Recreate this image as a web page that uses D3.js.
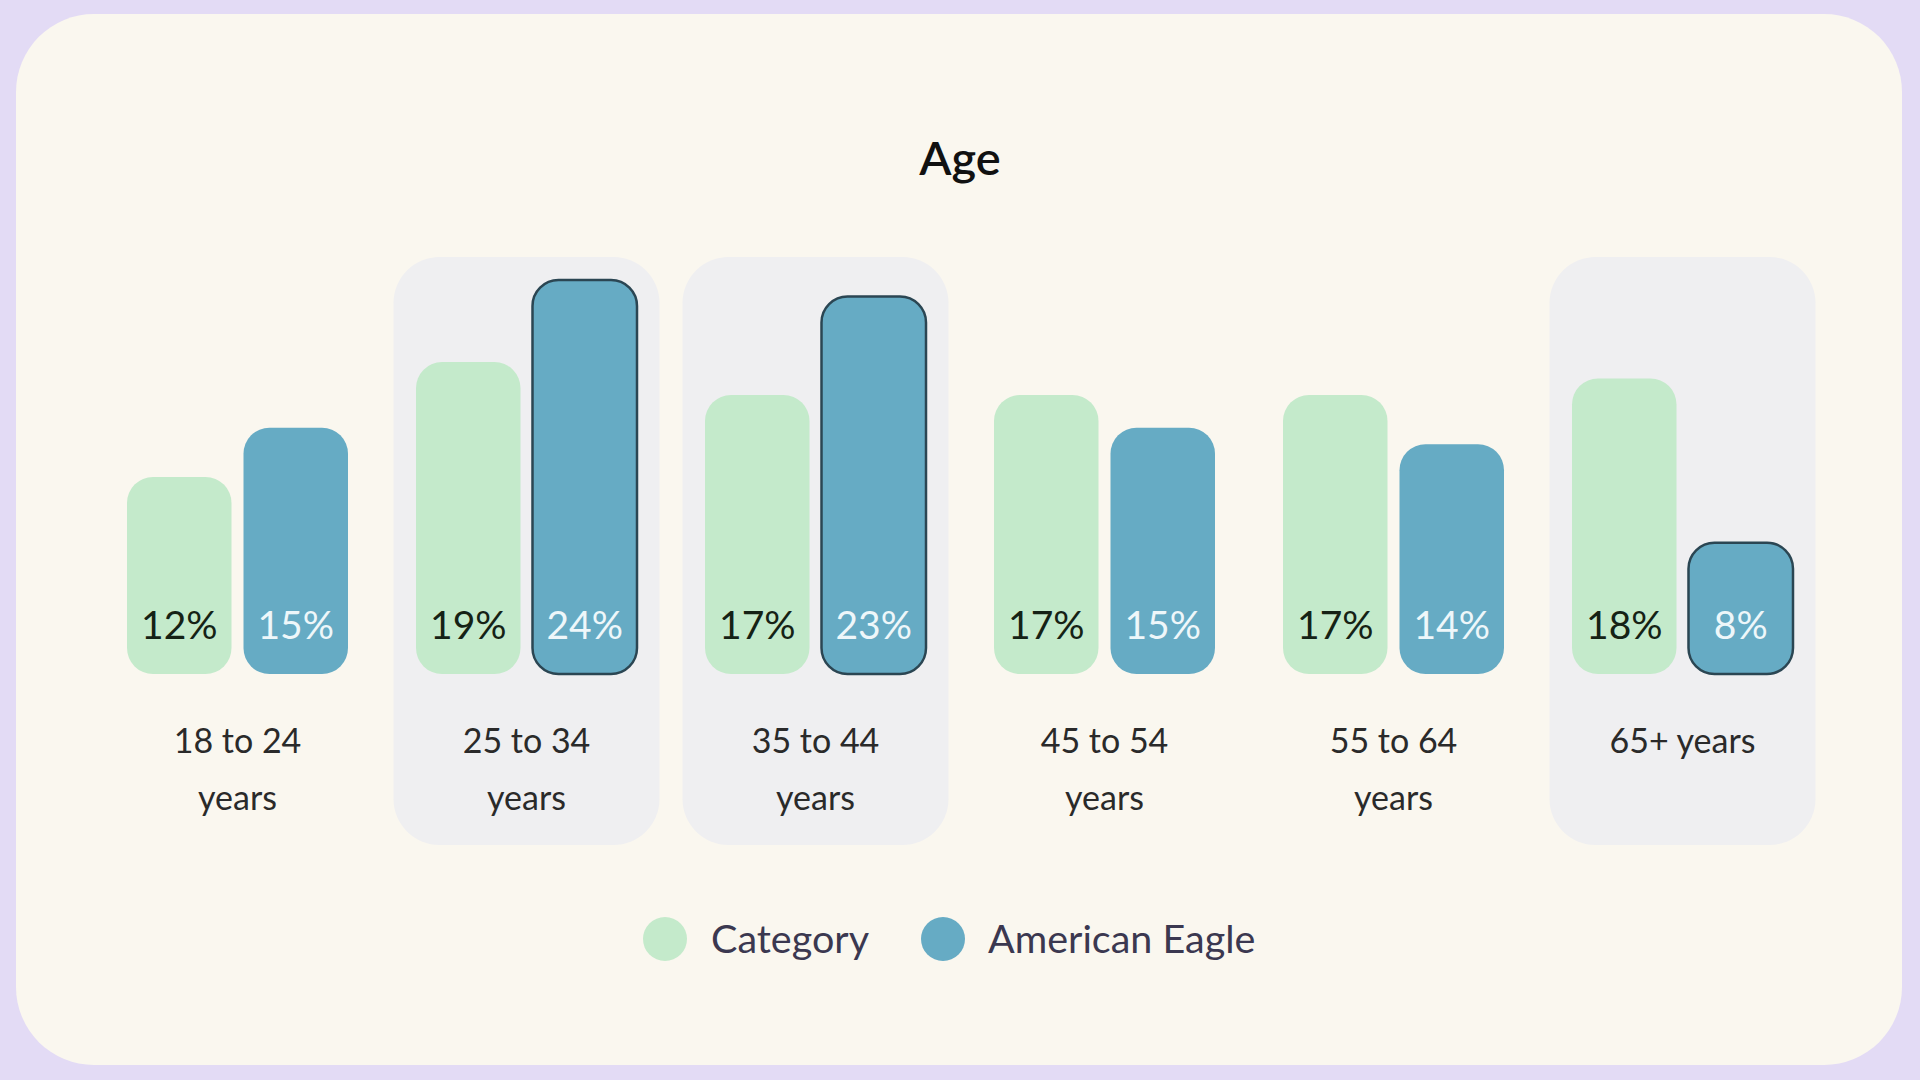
<!DOCTYPE html>
<html>
<head>
<meta charset="utf-8">
<script src="https://cdn.jsdelivr.net/npm/d3@7"></script>
<style>
  html, body { margin: 0; padding: 0; background: #e3dbf5; }
  svg { display: block; }
  text { font-family: Lato, "Open Sans", sans-serif; }
</style>
</head>
<body>
<svg id="chart" width="1920" height="1080"></svg>
<script>
const title = "Age";
const categories = ["18 to 24|years", "25 to 34|years", "35 to 44|years", "45 to 54|years", "55 to 64|years", "65+ years"];
const seriesNames = ["Category", "American Eagle"];
const categoryValues = [12, 19, 17, 17, 17, 18];
const aeValues = [15, 24, 23, 15, 14, 8];
const highlighted = ["25 to 34|years", "35 to 44|years", "65+ years"];

const colors = { "Category": "#c4eacb", "American Eagle": "#66abc4" };
const labelColors = { "Category": "#152215", "American Eagle": "#eef7fa" };

const W = 1920, H = 1080;
const svg = d3.select("#chart");

// page background + card
svg.append("rect").attr("width", W).attr("height", H).attr("fill", "#e3dbf5");
svg.append("rect").attr("x", 16).attr("y", 14).attr("width", 1886).attr("height", 1051)
  .attr("rx", 78).attr("ry", 78).attr("fill", "#faf7ef");

// title
svg.append("text").attr("x", 960).attr("y", 175).attr("text-anchor", "middle")
  .attr("font-size", 47).attr("font-weight", 600).attr("fill", "#111").text(title);

const x0 = d3.scaleBand().domain(categories).range([93, 1827]).paddingInner(0).paddingOuter(0);
const x1 = d3.scaleBand().domain(seriesNames).range([-110.5, 110.5]).paddingInner(0.103).paddingOuter(0);
const y = d3.scaleLinear().domain([0, 24]).range([674, 280]);

const data = categories.map((c, i) => ({
  cat: c,
  values: [
    { series: "Category", v: categoryValues[i] },
    { series: "American Eagle", v: aeValues[i] }
  ]
}));

const groups = svg.selectAll("g.grp").data(data).join("g")
  .attr("class", "grp")
  .attr("transform", d => `translate(${x0(d.cat) + x0.bandwidth() / 2},0)`);

// highlight boxes
groups.filter(d => highlighted.includes(d.cat))
  .append("rect")
  .attr("x", -133).attr("width", 266)
  .attr("y", 257).attr("height", 588)
  .attr("rx", 46).attr("ry", 46)
  .attr("fill", "#efeff1");

// bars
const r = 26;
groups.selectAll("rect.bar").data(d => d.values.map(v => ({ ...v, hl: highlighted.includes(d.cat) })))
  .join("rect")
  .attr("class", "bar")
  .attr("x", d => x1(d.series))
  .attr("width", x1.bandwidth())
  .attr("y", d => y(d.v))
  .attr("height", d => y(0) - y(d.v))
  .attr("rx", r).attr("ry", r)
  .attr("fill", d => colors[d.series])
  .attr("stroke", d => (d.hl && d.series === "American Eagle") ? "#2b4653" : "none")
  .attr("stroke-width", 2.5);

// value labels
groups.selectAll("text.val").data(d => d.values)
  .join("text")
  .attr("class", "val")
  .attr("x", d => x1(d.series) + x1.bandwidth() / 2)
  .attr("y", 639)
  .attr("text-anchor", "middle")
  .attr("font-size", 39)
  .attr("fill", d => labelColors[d.series])
  .text(d => d.v + "%");

// category labels
groups.append("text")
  .attr("text-anchor", "middle")
  .attr("font-size", 34)
  .attr("fill", "#2a2a2a")
  .selectAll("tspan").data(d => d.cat.split("|"))
  .join("tspan")
  .attr("x", 0)
  .attr("y", (d, i) => 753 + i * 57)
  .text(d => d);

// legend
const legendItems = [
  { name: seriesNames[0], cx: 665, tx: 711 },
  { name: seriesNames[1], cx: 943, tx: 988 }
];
const lg = svg.append("g");
lg.selectAll("circle").data(legendItems).join("circle")
  .attr("cx", d => d.cx).attr("cy", 939).attr("r", 22)
  .attr("fill", d => colors[d.name]);
lg.selectAll("text").data(legendItems).join("text")
  .attr("x", d => d.tx).attr("y", 953)
  .attr("font-size", 39.5).attr("fill", "#3b3850")
  .text(d => d.name);
</script>
</body>
</html>
